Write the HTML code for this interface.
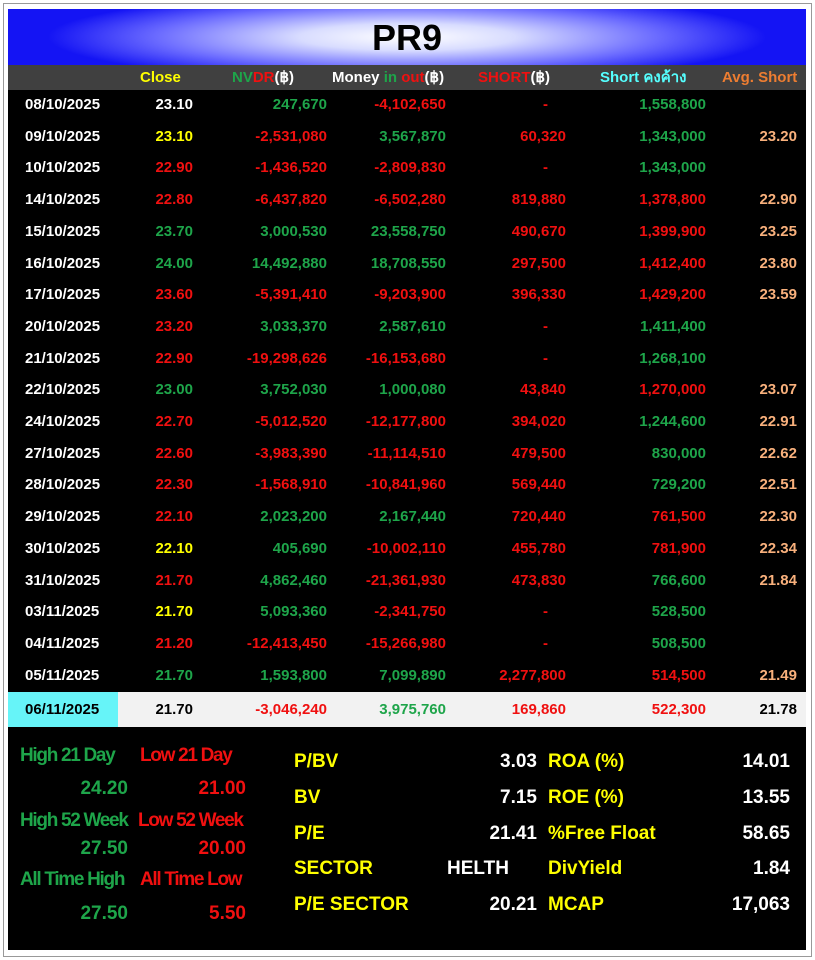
<!DOCTYPE html>
<html><head><meta charset="utf-8"><style>
body{margin:0;width:815px;height:960px;background:#fff;position:relative;overflow:hidden;font-family:"Liberation Sans","Noto Sans CJK SC",sans-serif;font-weight:bold}
#frame{position:absolute;left:3px;top:3px;width:807px;height:952px;border:1px solid #999}
#panel{position:absolute;left:8px;top:9px;width:798px;height:941px;background:#000}
#hdr{position:absolute;left:8px;top:9px;width:798px;height:56px;background:radial-gradient(ellipse 45% 80% at 50% 50%,#fff 0%,#d8dcff 30%,#6a6aff 70%,#1414f4 100%);text-align:center;font-size:36px;line-height:58px;color:#000}
#colh{position:absolute;left:8px;top:65px;width:798px;height:25px;background:#404040}
.t{position:absolute;white-space:nowrap;font-size:15px;line-height:20px}
.r{text-align:right}
.g{color:#1ea54a}.rd{color:#f01010}.y{color:#ffff00}.w{color:#fff}.o{color:#f8b07c}.c{color:#5ff}.k{color:#000}
.b{font-size:19px;line-height:24px}
.n{letter-spacing:-1.3px}
</style></head><body>
<div id="frame"></div>
<div id="panel"></div>
<div id="hdr">PR9</div>
<div id="colh"></div>
<div class="t y" style="left:140px;top:68px">Close</div>
<div class="t" style="left:232px;top:68px"><span class="g">NV</span><span class="rd">DR</span><span class="w">(฿)</span></div>
<div class="t w" style="left:332px;top:68px">Money <span class="g">in</span> <span class="rd">out</span>(฿)</div>
<div class="t" style="left:478px;top:68px"><span class="rd">SHORT</span><span class="w">(฿)</span></div>
<div class="t c" style="left:600px;top:68px">Short คงค้าง</div>
<div class="t" style="left:722px;top:68px;color:#ed7d31">Avg. Short</div>
<div style="position:absolute;left:8px;top:692px;width:798px;height:35px;background:#f2f2f2"></div>
<div style="position:absolute;left:8px;top:692px;width:110px;height:35px;background:#66f4f8"></div>
<div id="rows"></div>
<div class="t b g n" style="left:20px;top:744px">High 21 Day</div>
<div class="t b rd n" style="left:140px;top:744px">Low 21 Day</div>
<div class="t b g r" style="left:28px;width:100px;top:777px">24.20</div>
<div class="t b rd r" style="left:146px;width:100px;top:777px">21.00</div>
<div class="t b g n" style="left:20px;top:809px">High 52 Week</div>
<div class="t b rd n" style="left:138px;top:809px">Low 52 Week</div>
<div class="t b g r" style="left:28px;width:100px;top:837px">27.50</div>
<div class="t b rd r" style="left:146px;width:100px;top:837px">20.00</div>
<div class="t b g n" style="left:20px;top:868px">All Time High</div>
<div class="t b rd n" style="left:140px;top:868px">All Time Low</div>
<div class="t b g r" style="left:28px;width:100px;top:902px">27.50</div>
<div class="t b rd r" style="left:146px;width:100px;top:902px">5.50</div>
<div id="fund"></div>
<script>
var D=[
["08/10/2025","23.10","w","247,670","-4,102,650","-","1,558,800","g",""],
["09/10/2025","23.10","y","-2,531,080","3,567,870","60,320","1,343,000","g","23.20"],
["10/10/2025","22.90","rd","-1,436,520","-2,809,830","-","1,343,000","g",""],
["14/10/2025","22.80","rd","-6,437,820","-6,502,280","819,880","1,378,800","rd","22.90"],
["15/10/2025","23.70","g","3,000,530","23,558,750","490,670","1,399,900","rd","23.25"],
["16/10/2025","24.00","g","14,492,880","18,708,550","297,500","1,412,400","rd","23.80"],
["17/10/2025","23.60","rd","-5,391,410","-9,203,900","396,330","1,429,200","rd","23.59"],
["20/10/2025","23.20","rd","3,033,370","2,587,610","-","1,411,400","g",""],
["21/10/2025","22.90","rd","-19,298,626","-16,153,680","-","1,268,100","g",""],
["22/10/2025","23.00","g","3,752,030","1,000,080","43,840","1,270,000","rd","23.07"],
["24/10/2025","22.70","rd","-5,012,520","-12,177,800","394,020","1,244,600","g","22.91"],
["27/10/2025","22.60","rd","-3,983,390","-11,114,510","479,500","830,000","g","22.62"],
["28/10/2025","22.30","rd","-1,568,910","-10,841,960","569,440","729,200","g","22.51"],
["29/10/2025","22.10","rd","2,023,200","2,167,440","720,440","761,500","rd","22.30"],
["30/10/2025","22.10","y","405,690","-10,002,110","455,780","781,900","rd","22.34"],
["31/10/2025","21.70","rd","4,862,460","-21,361,930","473,830","766,600","g","21.84"],
["03/11/2025","21.70","y","5,093,360","-2,341,750","-","528,500","g",""],
["04/11/2025","21.20","rd","-12,413,450","-15,266,980","-","508,500","g",""],
["05/11/2025","21.70","g","1,593,800","7,099,890","2,277,800","514,500","rd","21.49"]];
var h="";function sg(v){return v.charAt(0)=="-"?"rd":"g"}
function cell(x,w,y,cls,txt){return '<div class="t r '+cls+'" style="left:'+(x-w)+'px;width:'+w+'px;top:'+y+'px">'+txt+'</div>'}
D.forEach(function(d,i){var y=95+i*31.7;
h+='<div class="t w" style="left:25px;top:'+y+'px">'+d[0]+'</div>';
h+=cell(193,80,y,d[2],d[1]);h+=cell(327,120,y,sg(d[3]),d[3]);h+=cell(446,120,y,sg(d[4]),d[4]);
h+=cell(d[5]=="-"?548:566,120,y,"rd",d[5]);h+=cell(706,120,y,d[7],d[6]);h+=cell(797,80,y,"o",d[8]);});
var y=700;h+='<div class="t k" style="left:25px;top:'+y+'px">06/11/2025</div>'+cell(193,80,y,"k","21.70")+cell(327,120,y,"rd","-3,046,240")+cell(446,120,y,"g","3,975,760")+cell(566,120,y,"rd","169,860")+cell(706,120,y,"rd","522,300")+cell(797,80,y,"k","21.78");
document.getElementById("rows").innerHTML=h;
var F=[["P/BV","3.03","ROA (%)","14.01"],["BV","7.15","ROE (%)","13.55"],["P/E","21.41","%Free Float","58.65"],["SECTOR","","DivYield","1.84"],["P/E SECTOR","20.21","MCAP","17,063"]];
var f="";F.forEach(function(r,i){var y=750+i*35.8;
f+='<div class="t b y" style="left:294px;top:'+y+'px">'+r[0]+'</div>';
if(r[1])f+='<div class="t b w r" style="left:437px;width:100px;top:'+y+'px">'+r[1]+'</div>';
else f+='<div class="t b w" style="left:447px;top:'+y+'px">HELTH</div>';
f+='<div class="t b y" style="left:548px;top:'+y+'px">'+r[2]+'</div>';
f+='<div class="t b w r" style="left:690px;width:100px;top:'+y+'px">'+r[3]+'</div>';});
document.getElementById("fund").innerHTML=f;
</script>
</body></html>
